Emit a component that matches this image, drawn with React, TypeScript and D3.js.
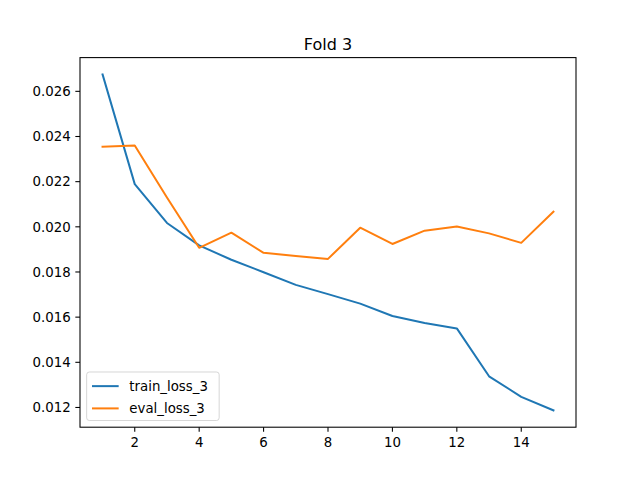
import React from "react";
import * as d3 from "d3";

const epochs = [1, 2, 3, 4, 5, 6, 7, 8, 9, 10, 11, 12, 13, 14, 15];
const trainLoss = [0.02675, 0.02189, 0.02017, 0.01918, 0.01854, 0.01799, 0.01743, 0.01702, 0.0166, 0.01605, 0.01574, 0.0155, 0.01338, 0.01247, 0.01187];
const evalLoss = [0.02355, 0.0236, 0.0213, 0.01907, 0.01974, 0.01885, 0.01871, 0.01858, 0.01996, 0.01924, 0.01983, 0.02001, 0.01971, 0.01929, 0.02067];
const xTicks = [2, 4, 6, 8, 10, 12, 14];
const yTicks = [0.012, 0.014, 0.016, 0.018, 0.02, 0.022, 0.024, 0.026];
const seriesNames = ["train_loss_3", "eval_loss_3"];
const colors = ["#1f77b4", "#ff7f0e"];
const title = "Fold 3";

const W = 640, H = 480;
const L = 80, R = 576, T = 57.6, B = 427.2;

export default function App() {
  const all = [...trainLoss, ...evalLoss];
  const ymin = d3.min(all)!, ymax = d3.max(all)!;
  const ym = (ymax - ymin) * 0.05;
  const x = d3.scaleLinear().domain([1 - 0.7, 15 + 0.7]).range([L, R]);
  const y = d3.scaleLinear().domain([ymin - ym, ymax + ym]).range([B, T]);
  const line = d3.line<number>().x((_, i) => x(epochs[i])).y((d) => y(d));
  const series = [trainLoss, evalLoss];
  const font = "DejaVu Sans, sans-serif";
  const fs = 13.33;
  // legend layout
  const lgLeft = L + 6.67, lgBottom = B - 6.67;
  const rowH = fs * 1.17;
  const lgH = 2 * 5.33 + 2 * rowH + 6.67;
  const lgTop = lgBottom - lgH;
  const lgW = 132.5;
  return (
    <svg width={W} height={H} style={{ position: "absolute", left: 0, top: 0, background: "#fff" }} fontFamily={font}>
      <rect x={0} y={0} width={W} height={H} fill="#fff" />
      <g>
        {series.map((s, i) => (
          <path key={i} d={line(s) || ""} fill="none" stroke={colors[i]} strokeWidth={2} strokeLinecap="square" strokeLinejoin="round" />
        ))}
      </g>
      <rect x={L} y={T} width={R - L} height={B - T} fill="none" stroke="#000" strokeWidth={1.07} />
      {xTicks.map((t) => (
        <g key={t}>
          <line x1={x(t)} x2={x(t)} y1={B} y2={B + 4.67} stroke="#000" strokeWidth={1.07} />
          <text x={x(t)} y={B + 4.67 + 4.67 + fs * 0.76} fontSize={fs} textAnchor="middle" fill="#000">{t}</text>
        </g>
      ))}
      {yTicks.map((t) => (
        <g key={t}>
          <line x1={L - 4.67} x2={L} y1={y(t)} y2={y(t)} stroke="#000" strokeWidth={1.07} />
          <text x={L - 4.67 - 4.67} y={y(t)} dy="0.36em" fontSize={fs} textAnchor="end" fill="#000">{t.toFixed(3)}</text>
        </g>
      ))}
      <text x={(L + R) / 2} y={T - 8} fontSize={16} textAnchor="middle" fill="#000">{title}</text>
      <g>
        <rect x={lgLeft} y={lgTop} width={lgW} height={lgH} rx={2.7} fill="#fff" fillOpacity={0.8} stroke="#cccccc" strokeOpacity={0.8} strokeWidth={1} />
        {seriesNames.map((n, i) => {
          const cy = lgTop + 5.33 + rowH / 2 + i * (rowH + 6.67) + 1;
          return (
            <g key={n}>
              <line x1={lgLeft + 5.33} x2={lgLeft + 5.33 + 26.67} y1={cy} y2={cy} stroke={colors[i]} strokeWidth={2} />
              <text x={lgLeft + 5.33 + 26.67 + 10.67} y={cy} dy="0.36em" fontSize={fs} fill="#000">{n}</text>
            </g>
          );
        })}
      </g>
    </svg>
  );
}
